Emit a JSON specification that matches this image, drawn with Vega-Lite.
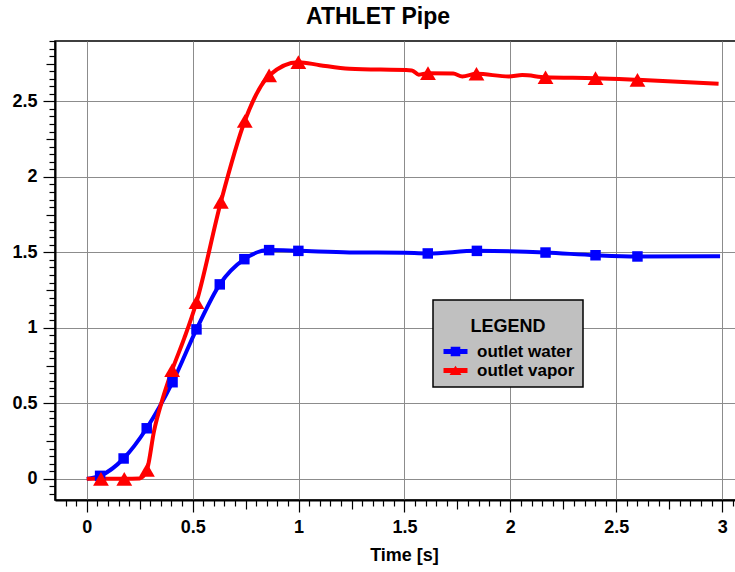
{
  "$schema": "https://vega.github.io/schema/vega-lite/v6.json",
  "autosize": {"type": "none"},
  "padding": {"left": 55, "top": 41, "right": 0, "bottom": 72},
  "width": 682,
  "height": 459,
  "background": "white",
  "config": {
    "view": {"stroke": "black", "strokeWidth": 1.5, "fill": "white"},
    "font": "Liberation Sans"
  },
  "title": {"text": "ATHLET Pipe", "font": "Liberation Sans", "fontSize": 23, "fontWeight": "bold", "anchor": "middle", "frame": "group", "dx": -18, "dy": 29, "offset": 14, "baseline": "alphabetic", "color": "black"},
  "data": {"values": [
    {"series": "outlet water", "t": 0, "v": 0, "m": 0},
    {"series": "outlet water", "t": 0.063, "v": 0.02, "m": 1},
    {"series": "outlet water", "t": 0.174, "v": 0.135, "m": 1},
    {"series": "outlet water", "t": 0.283, "v": 0.335, "m": 1},
    {"series": "outlet water", "t": 0.405, "v": 0.64, "m": 1},
    {"series": "outlet water", "t": 0.518, "v": 0.99, "m": 1},
    {"series": "outlet water", "t": 0.628, "v": 1.288, "m": 1},
    {"series": "outlet water", "t": 0.744, "v": 1.455, "m": 1},
    {"series": "outlet water", "t": 0.861, "v": 1.515, "m": 1},
    {"series": "outlet water", "t": 0.999, "v": 1.51, "m": 1},
    {"series": "outlet water", "t": 1.24, "v": 1.5, "m": 0},
    {"series": "outlet water", "t": 1.5, "v": 1.497, "m": 0},
    {"series": "outlet water", "t": 1.61, "v": 1.493, "m": 1},
    {"series": "outlet water", "t": 1.842, "v": 1.51, "m": 1},
    {"series": "outlet water", "t": 2.166, "v": 1.499, "m": 1},
    {"series": "outlet water", "t": 2.402, "v": 1.481, "m": 1},
    {"series": "outlet water", "t": 2.6, "v": 1.473, "m": 1},
    {"series": "outlet water", "t": 2.99, "v": 1.474, "m": 0},
    {"series": "outlet vapor", "t": 0, "v": 0, "m": 0},
    {"series": "outlet vapor", "t": 0.067, "v": 0, "m": 1},
    {"series": "outlet vapor", "t": 0.177, "v": 0, "m": 1},
    {"series": "outlet vapor", "t": 0.25, "v": 0.003, "m": 0},
    {"series": "outlet vapor", "t": 0.284, "v": 0.06, "m": 1},
    {"series": "outlet vapor", "t": 0.318, "v": 0.32, "m": 0},
    {"series": "outlet vapor", "t": 0.356, "v": 0.52, "m": 0},
    {"series": "outlet vapor", "t": 0.403, "v": 0.72, "m": 1},
    {"series": "outlet vapor", "t": 0.46, "v": 0.93, "m": 0},
    {"series": "outlet vapor", "t": 0.518, "v": 1.17, "m": 1},
    {"series": "outlet vapor", "t": 0.633, "v": 1.834, "m": 1},
    {"series": "outlet vapor", "t": 0.746, "v": 2.37, "m": 1},
    {"series": "outlet vapor", "t": 0.861, "v": 2.672, "m": 1},
    {"series": "outlet vapor", "t": 0.999, "v": 2.76, "m": 1},
    {"series": "outlet vapor", "t": 1.1, "v": 2.74, "m": 0},
    {"series": "outlet vapor", "t": 1.24, "v": 2.716, "m": 0},
    {"series": "outlet vapor", "t": 1.535, "v": 2.705, "m": 0},
    {"series": "outlet vapor", "t": 1.568, "v": 2.677, "m": 0},
    {"series": "outlet vapor", "t": 1.611, "v": 2.687, "m": 1},
    {"series": "outlet vapor", "t": 1.73, "v": 2.684, "m": 0},
    {"series": "outlet vapor", "t": 1.773, "v": 2.665, "m": 0},
    {"series": "outlet vapor", "t": 1.84, "v": 2.683, "m": 1},
    {"series": "outlet vapor", "t": 1.993, "v": 2.665, "m": 0},
    {"series": "outlet vapor", "t": 2.056, "v": 2.674, "m": 0},
    {"series": "outlet vapor", "t": 2.166, "v": 2.66, "m": 1},
    {"series": "outlet vapor", "t": 2.402, "v": 2.654, "m": 1},
    {"series": "outlet vapor", "t": 2.6, "v": 2.643, "m": 1},
    {"series": "outlet vapor", "t": 2.983, "v": 2.617, "m": 0}
  ]},
  "encoding": {
    "x": {
      "field": "t", "type": "quantitative",
      "scale": {"domain": [-0.15, 3.07], "nice": false, "zero": false},
      "axis": {
        "title": "Time [s]", "titleFont": "Liberation Sans", "titleFontSize": 18, "titleFontWeight": "bold", "titleColor": "black",
        "titleX": 349, "titleY": 60, "titleBaseline": "alphabetic", "titleAnchor": null, "titleAlign": "center",
        "values": [-0.1,-0.05,0,0.05,0.1,0.15,0.2,0.25,0.3,0.35,0.4,0.45,0.5,0.55,0.6,0.65,0.7,0.75,0.8,0.85,0.9,0.95,1,1.05,1.1,1.15,1.2,1.25,1.3,1.35,1.4,1.45,1.5,1.55,1.6,1.65,1.7,1.75,1.8,1.85,1.9,1.95,2,2.05,2.1,2.15,2.2,2.25,2.3,2.35,2.4,2.45,2.5,2.55,2.6,2.65,2.7,2.75,2.8,2.85,2.9,2.95,3,3.05],
        "format": "~g",
        "labelExpr": "abs(datum.value*2-round(datum.value*2))<0.001 ? datum.label : ''",
        "labelFont": "Liberation Sans", "labelFontSize": 18, "labelFontWeight": "bold", "labelColor": "black",
        "labelOverlap": false, "labelBound": false, "labelFlush": false, "labelPadding": 6,
        "domainColor": "black", "domainWidth": 2,
        "tickColor": "black", "tickWidth": 1.2,
        "tickSize": {"condition": [{"test": "abs(datum.value*2-round(datum.value*2))<0.001", "value": 12}, {"test": "abs(datum.value*4-round(datum.value*4))<0.001", "value": 9}], "value": 6},
        "grid": true, "gridColor": "#8c8c8c", "gridWidth": 1,
        "gridOpacity": {"condition": {"test": "abs(datum.value*2-round(datum.value*2))<0.001", "value": 1}, "value": 0}
      }
    },
    "y": {
      "field": "v", "type": "quantitative",
      "scale": {"domain": [-0.14, 2.9], "nice": false, "zero": false},
      "axis": {
        "title": null,
        "values": [-0.1,-0.05,0,0.05,0.1,0.15,0.2,0.25,0.3,0.35,0.4,0.45,0.5,0.55,0.6,0.65,0.7,0.75,0.8,0.85,0.9,0.95,1,1.05,1.1,1.15,1.2,1.25,1.3,1.35,1.4,1.45,1.5,1.55,1.6,1.65,1.7,1.75,1.8,1.85,1.9,1.95,2,2.05,2.1,2.15,2.2,2.25,2.3,2.35,2.4,2.45,2.5,2.55,2.6,2.65,2.7,2.75,2.8,2.85,2.9],
        "format": "~g",
        "labelExpr": "abs(datum.value*2-round(datum.value*2))<0.001 ? datum.label : ''",
        "labelFont": "Liberation Sans", "labelFontSize": 18, "labelFontWeight": "bold", "labelColor": "black",
        "labelOverlap": false, "labelBound": false, "labelFlush": false, "labelPadding": 6,
        "domainColor": "black", "domainWidth": 2,
        "tickColor": "black", "tickWidth": 1.2,
        "tickSize": {"condition": [{"test": "abs(datum.value*2-round(datum.value*2))<0.001", "value": 12}, {"test": "abs(datum.value*4-round(datum.value*4))<0.001", "value": 9}], "value": 6},
        "grid": true, "gridColor": "#8c8c8c", "gridWidth": 1,
        "gridOpacity": {"condition": {"test": "abs(datum.value*2-round(datum.value*2))<0.001", "value": 1}, "value": 0}
      }
    }
  },
  "layer": [
    {
      "mark": {"type": "line", "interpolate": "monotone", "strokeWidth": 4, "clip": true},
      "encoding": {
        "color": {"field": "series", "type": "nominal", "scale": {"domain": ["outlet water", "outlet vapor"], "range": ["#0000ff", "#ff0000"]},
          "legend": {
            "orient": "none", "legendX": 378, "legendY": 259,
            "title": "LEGEND", "titleFont": "Liberation Sans", "titleFontSize": 18, "titleFontWeight": "bold", "titleColor": "black", "titleAnchor": "middle", "titleAlign": "center", "titlePadding": 17,
            "labelFont": "Liberation Sans", "labelFontSize": 17, "labelFontWeight": "bold", "labelColor": "black", "labelOffset": 19,
            "fillColor": "#c0c0c0", "strokeColor": "black", "padding": 8,
            "symbolSize": 256, "rowPadding": 1,
            "encode": {
              "title": {"update": {"dy": {"value": 10}}},
              "legend": {"update": {"strokeWidth": {"value": 1.5}}},
              "symbols": {"update": {
                "shape": {"signal": "datum.value === 'outlet water' ? 'M-0.75,-0.3H2.25V0.3H-0.75Z M0.15,-0.6H1.35V0.6H0.15Z' : 'M-0.75,-0.3H2.25V0.3H-0.75Z M0,0.55L0.75,-0.6L1.5,0.55Z'"},
                "fill": {"scale": "color", "field": "value"},
                "fillOpacity": {"value": 1},
                "opacity": {"value": 1},
                "stroke": {"value": "transparent"},
                "strokeWidth": {"value": 0},
                "size": {"value": 256}
              }}
            }
          }
        },
        "order": {"field": "t", "type": "quantitative"}
      }
    },
    {
      "transform": [{"filter": "datum.m == 1 && datum.series == 'outlet water'"}],
      "mark": {"type": "point", "shape": "square", "filled": true, "size": 110, "color": "#0000ff", "opacity": 1, "strokeWidth": 0}
    },
    {
      "transform": [{"filter": "datum.m == 1 && datum.series == 'outlet vapor'"}],
      "mark": {"type": "point", "shape": "triangle-up", "filled": true, "size": 250, "color": "#ff0000", "opacity": 1, "strokeWidth": 0}
    }
  ]
}
